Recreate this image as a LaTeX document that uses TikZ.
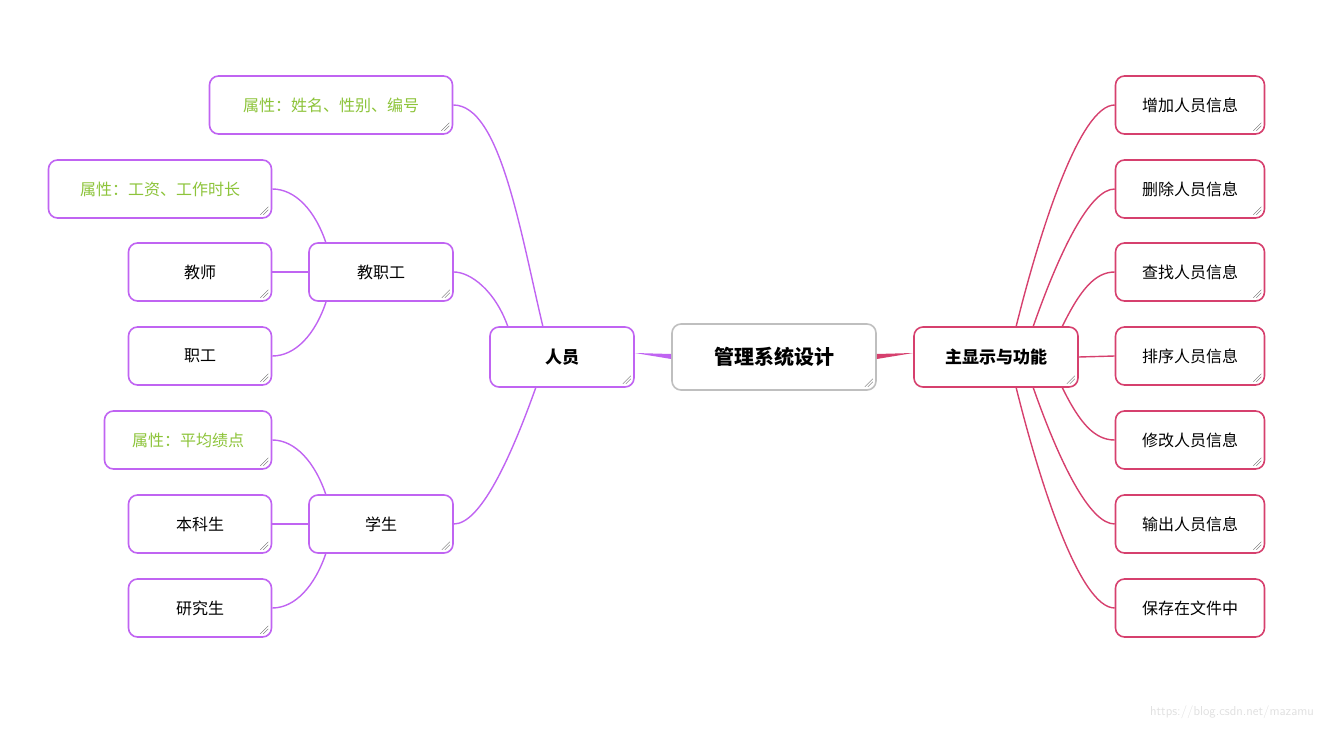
\documentclass[tikz,border=0pt]{standalone}
\usepackage{fontspec}
\setmainfont{Noto Sans CJK SC}
\begin{document}
\begin{tikzpicture}[x=1pt,y=-1pt,
  box/.style={draw,line width=1.6pt,rounded corners=9pt,fill=white,minimum height=58pt,font=\fontsize{16}{18}\selectfont,inner sep=0pt},
  pu/.style={box,draw=purp},
  pk/.style={box,draw=pinkc,minimum width=149pt},
  con/.style={line width=1.4pt}]
\definecolor{purp}{HTML}{C064F2}
\definecolor{pinkc}{HTML}{D6406E}
\definecolor{grn}{HTML}{8DC43A}
\useasboundingbox (0,0) rectangle (1343,730);
% nodes
\node[box,draw=black!25,minimum width=204pt,minimum height=66pt,font=\fontsize{20}{22}\selectfont\bfseries] (c) at (774,357) {管理系统设计};
\node[pu,minimum width=144pt,minimum height=60pt,font=\fontsize{17}{19}\selectfont\bfseries] (ry) at (562,357) {人员};
\node[pk,minimum width=164pt,minimum height=60pt,font=\fontsize{17}{19}\selectfont\bfseries] (zx) at (996,357) {主显示与功能};
\node[pu,minimum width=243pt,text=grn] (a1) at (331,105) {属性：姓名、性别、编号};
\node[pu,minimum width=144pt] (jz) at (381,272) {教职工};
\node[pu,minimum width=144pt] (xs) at (381,524) {学生};
\node[pu,minimum width=223pt,text=grn] (a2) at (160,189) {属性：工资、工作时长};
\node[pu,minimum width=143pt] (js) at (200,272) {教师};
\node[pu,minimum width=143pt] (zg) at (200,356) {职工};
\node[pu,minimum width=167pt,text=grn] (a3) at (188,440) {属性：平均绩点};
\node[pu,minimum width=143pt] (bk) at (200,524) {本科生};
\node[pu,minimum width=143pt] (yj) at (200,608) {研究生};
\foreach \n/\t/\y in {r1/增加人员信息/105,r2/删除人员信息/189,r3/查找人员信息/272,r4/排序人员信息/356,r5/修改人员信息/440,r6/输出人员信息/524,r7/保存在文件中/608}
  \node[pk] (\n) at (1190,\y) {\t};
% hatch marks
\foreach \n in {c,ry,zx,a1,jz,xs,a2,js,zg,a3,bk,yj,r1,r2,r3,r4,r5,r6}{
  \draw[black!60,line width=0.5pt] ([shift={(-12,-4)}]\n.south east) -- ([shift={(-4,-12)}]\n.south east);
  \draw[black!60,line width=0.5pt] ([shift={(-9,-4)}]\n.south east) -- ([shift={(-4,-9)}]\n.south east);
}
% thick links
\fill[purp] (ry.east) ++(0,-4) -- ([yshift=-2]c.west) -- ([yshift=3]c.west) -- ([yshift=4]ry.east) -- cycle;
\fill[pinkc] (zx.west) ++(0,-4) -- ([yshift=-2]c.east) -- ([yshift=3]c.east) -- ([yshift=4]zx.west) -- cycle;
% purple connectors
\begin{scope}[on background layer/.style={}]
\end{scope}
\draw[con,purp] ([xshift=-22]ry.north) .. controls +(0,-0) and +(0,0) .. (ry.north) ;
\draw[con,purp] (543,327) .. controls (520,230) and (500,105) .. (a1.east);
\draw[con,purp] (508,327) .. controls (495,290) and (470,272) .. (jz.east);
\draw[con,purp] (536,387) .. controls (510,460) and (480,524) .. (xs.east);
\draw[con,purp] (326,243) .. controls (315,210) and (295,189) .. (a2.east);
\draw[con,purp] (jz.west) -- (js.east);
\draw[con,purp] (326,302) .. controls (315,335) and (295,356) .. (zg.east);
\draw[con,purp] (326,495) .. controls (315,462) and (295,440) .. (a3.east);
\draw[con,purp] (xs.west) -- (bk.east);
\draw[con,purp] (326,553) .. controls (315,586) and (295,608) .. (yj.east);
% pink connectors
\draw[con,pinkc] (1016,327) .. controls (1040,230) and (1080,105) .. (r1.west);
\draw[con,pinkc] (1033,327) .. controls (1060,250) and (1090,189) .. (r2.west);
\draw[con,pinkc] (1062,327) .. controls (1080,290) and (1095,272) .. (r3.west);
\draw[con,pinkc] (zx.east) -- (r4.west);
\draw[con,pinkc] (1062,387) .. controls (1080,424) and (1095,440) .. (r5.west);
\draw[con,pinkc] (1033,387) .. controls (1060,464) and (1090,524) .. (r6.west);
\draw[con,pinkc] (1016,387) .. controls (1040,484) and (1080,608) .. (r7.west);
\node[text=black!12,font=\fontsize{13}{15}\selectfont\sffamily] (wm) at (1232,712) {https://blog.csdn.net/mazamu};
\end{tikzpicture}
\end{document}
